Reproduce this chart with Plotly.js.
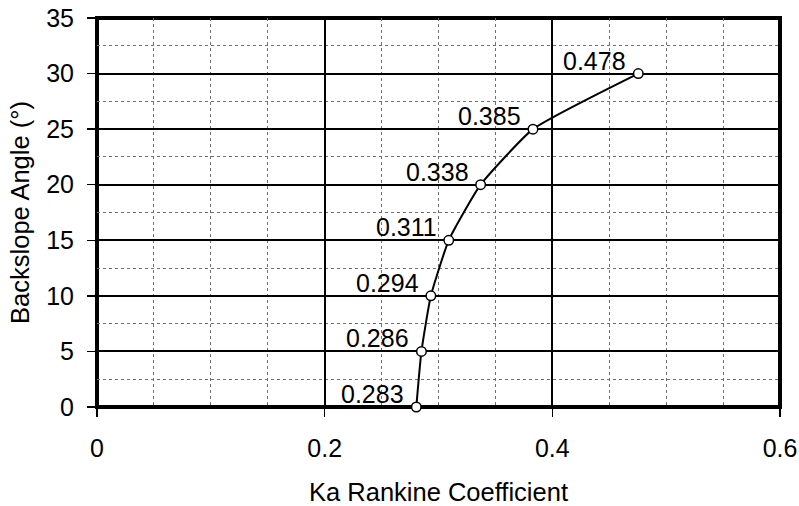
<!DOCTYPE html>
<html>
<head>
<meta charset="utf-8">
<script src="https://cdn.plot.ly/plotly-3.0.1.min.js"></script>
<style>
  html, body { margin: 0; padding: 0; background: #fff; }
  #chart { width: 799px; height: 506px; }
</style>
</head>
<body>
<div id="chart"></div>
<script>
// Data
var kaValues = [0.2805, 0.285, 0.2933, 0.309, 0.337, 0.383, 0.4755];
var backslopeAngles = [0, 5, 10, 15, 20, 25, 30];
var kaLabels = ["0.283", "0.286", "0.294", "0.311", "0.338", "0.385", "0.478"];
var xTickVals = [0, 0.2, 0.4, 0.6];
var xTickText = ["0", "0.2", "0.4", "0.6"];
var yTickVals = [0, 5, 10, 15, 20, 25, 30, 35];

var FONT = "Arial, 'Liberation Sans', sans-serif";

var trace = {
  x: kaValues,
  y: backslopeAngles,
  type: "scatter",
  mode: "lines+markers",
  line: { color: "#000", width: 2, shape: "spline", smoothing: 0.45 },
  marker: { symbol: "circle", size: 9.5, color: "#fff", line: { color: "#000", width: 1.5 } },
  cliponaxis: false,
  hoverinfo: "skip"
};

var annotations = kaValues.map(function (v, i) {
  return {
    x: v, y: backslopeAngles[i], xref: "x", yref: "y",
    text: kaLabels[i], showarrow: false,
    xanchor: "right", yanchor: "middle",
    xshift: -10, yshift: 13,
    font: { family: FONT, size: 25, color: "#000" }
  };
});

var layout = {
  width: 799, height: 506,
  margin: { l: 97, r: 19, t: 18, b: 99 },
  paper_bgcolor: "#fff", plot_bgcolor: "#fff",
  showlegend: false,
  font: { family: FONT, size: 25, color: "#000" },
  xaxis: {
    range: [0, 0.6], tickmode: "array", tickvals: xTickVals, ticktext: xTickText,
    showgrid: true, gridcolor: "#000", gridwidth: 2,
    zeroline: false, showline: false,
    ticks: "outside", ticklen: 9, tickwidth: 1.5, tickcolor: "#000",
    ticklabelstandoff: 10,
    tickfont: { family: FONT, size: 25, color: "#000" },
    minor: { dtick: 0.05, tick0: 0, showgrid: true, gridcolor: "#707070", gridwidth: 1, griddash: "dot", ticks: "" },
    title: { text: "Ka Rankine Coefficient", font: { family: FONT, size: 25.5, color: "#000" }, standoff: 29 }
  },
  yaxis: {
    range: [0, 35], tickmode: "array", tickvals: yTickVals,
    showgrid: true, gridcolor: "#000", gridwidth: 2,
    zeroline: false, showline: false,
    ticks: "outside", ticklen: 9, tickwidth: 1.5, tickcolor: "#000",
    ticklabelstandoff: 8,
    tickfont: { family: FONT, size: 25, color: "#000" },
    minor: { dtick: 2.5, tick0: 0, showgrid: true, gridcolor: "#707070", gridwidth: 1, griddash: "dot", ticks: "" },
    title: { text: "Backslope Angle (°)", font: { family: FONT, size: 25.5, color: "#000" }, standoff: 9 }
  },
  shapes: [{
    type: "rect", xref: "paper", yref: "paper", x0: 0, x1: 1, y0: 0, y1: 1,
    line: { color: "#000", width: 4 }, fillcolor: "rgba(0,0,0,0)", layer: "between"
  }],
  annotations: annotations
};

Plotly.newPlot("chart", [trace], layout, { staticPlot: true, displayModeBar: false });
</script>
</body>
</html>
